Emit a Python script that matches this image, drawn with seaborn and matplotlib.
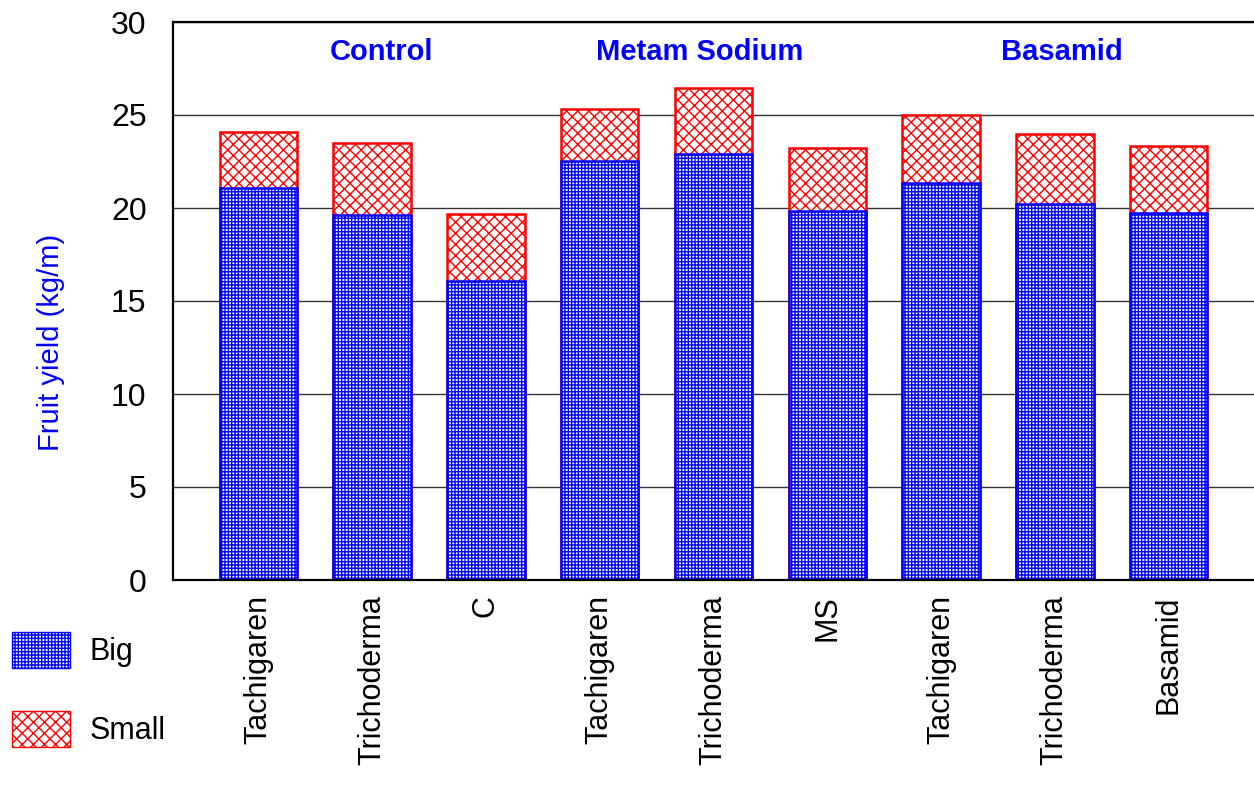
import matplotlib
matplotlib.use("Agg")
import matplotlib.pyplot as plt
import seaborn as sns
import pandas as pd
from matplotlib.patches import Patch

sns.set_theme(style="white")
plt.rcParams['font.family'] = ['Liberation Sans', 'DejaVu Sans']
plt.rcParams['hatch.linewidth'] = 1.0
plt.rcParams['text.color'] = 'black'

labels = ["Tachigaren", "Trichoderma", "C",
          "Tachigaren", "Trichoderma", "MS",
          "Tachigaren", "Trichoderma", "Basamid"]
big = [21.1, 19.6, 16.1, 22.5, 22.9, 19.85, 21.35, 20.2, 19.75]
small = [3.0, 3.9, 3.6, 2.8, 3.55, 3.4, 3.65, 3.8, 3.6]
groups = ["Control", "Metam Sodium", "Basamid"]
group_centers = [1.08, 3.88, 7.06]

RED_HATCH = "xxx"
BLUE_HATCH = "+++++"

ids = [f"b{i}" for i in range(len(labels))]
total = [b + s for b, s in zip(big, small)]
df = pd.DataFrame({"id": ids, "big": big, "total": total})

fig = plt.figure(figsize=(12.54, 8.01), dpi=100)
ax = fig.add_axes([173/1254, 1 - 580/801, 1 - 173/1254, (580 - 22)/801])

sns.barplot(data=df, x="id", y="total", order=ids, width=0.68, ax=ax, color="white")
n = len(ax.patches)
for p in ax.patches:
    p.set_facecolor("white")
    p.set_edgecolor("#ff0000")
    p.set_hatch(RED_HATCH)
    p.set_linewidth(1.8)
sns.barplot(data=df, x="id", y="big", order=ids, width=0.68, ax=ax, color="white")
for p in ax.patches[n:]:
    p.set_facecolor("white")
    p.set_edgecolor("#0000ff")
    p.set_hatch(BLUE_HATCH)
    p.set_linewidth(1.8)

ax.set_ylim(0, 30)
ax.set_xlim(-0.75, 8.75)
ax.set_yticks([0, 5, 10, 15, 20, 25, 30])
ax.yaxis.grid(True, color="#333333", linewidth=1.0)
ax.set_axisbelow(True)
ax.set_xticks(range(len(labels)))
ax.set_xticklabels(labels, rotation=90, va="top")
ax.tick_params(axis="y", labelsize=23, pad=19, length=0, colors="black")
ax.tick_params(axis="x", labelsize=22, pad=11, length=0, colors="black")
ax.set_xlabel("")
ax.set_ylabel("Fruit yield (kg/m)", color="#0000ff", fontsize=21)
ax.yaxis.set_label_coords(-0.10, 0.425)

for s in ["left", "bottom", "top"]:
    ax.spines[s].set_color("black")
    ax.spines[s].set_linewidth(1.6)
ax.spines["right"].set_visible(False)

for g, c in zip(groups, group_centers):
    ax.text(c, 28.4, g, color="#0000ff", fontsize=21, fontweight="bold",
            ha="center", va="center")

handles = [Patch(facecolor="white", edgecolor="#0000ff", hatch=BLUE_HATCH, label="Big"),
           Patch(facecolor="white", edgecolor="#ff0000", hatch=RED_HATCH, label="Small")]
leg = fig.legend(handles=handles, loc="upper left", bbox_to_anchor=(12/1254, 1 - 632/801),
                 frameon=False, fontsize=22, handlelength=1.9, handleheight=1.45,
                 labelspacing=1.4, handletextpad=0.65, borderaxespad=0, borderpad=0)
for t in leg.get_texts():
    t.set_color("black")

fig.savefig("out.png", dpi=100, facecolor="white")
